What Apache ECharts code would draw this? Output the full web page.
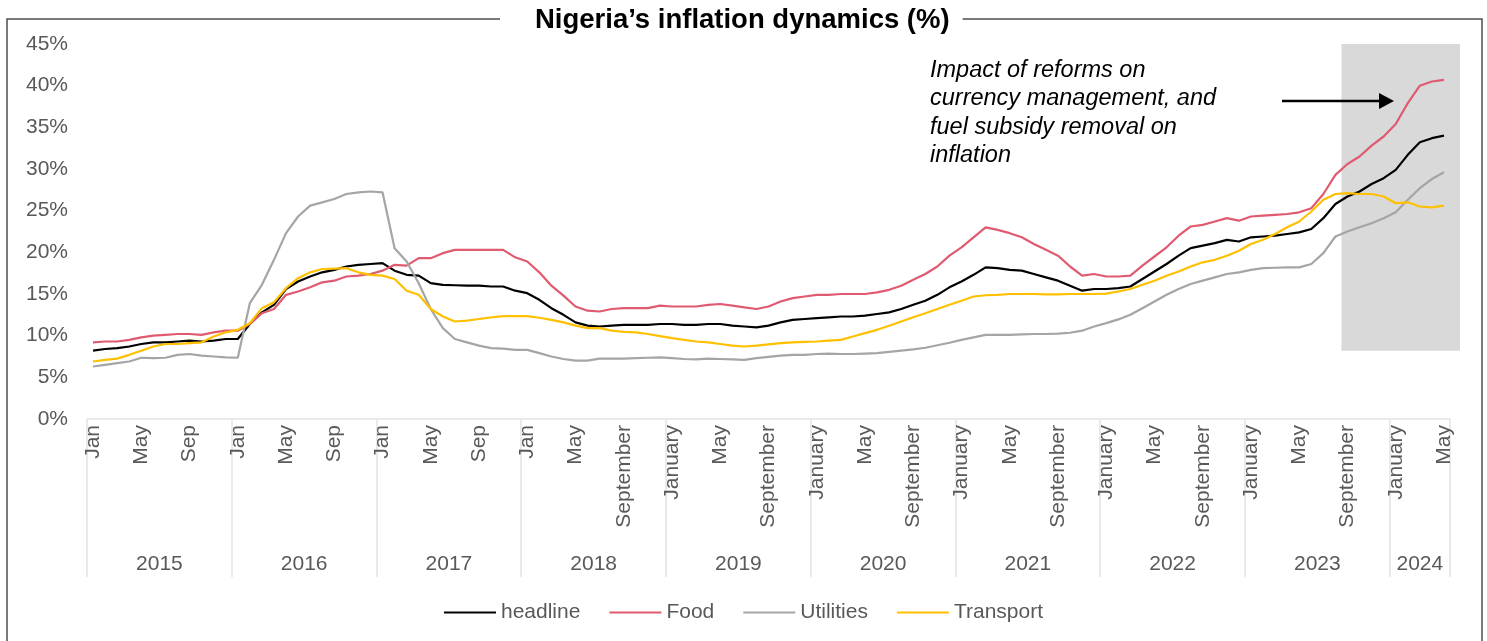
<!DOCTYPE html>
<html>
<head>
<meta charset="utf-8">
<title>Nigeria inflation dynamics</title>
<script src="https://cdn.jsdelivr.net/npm/echarts@6/dist/echarts.min.js"></script>
<style>
  html, body { margin: 0; padding: 0; background: #fff; }
  #chart { width: 1487px; height: 641px; }
</style>
</head>
<body>
<div id="chart"></div>
<script>
// years on the axis, the last one only runs to May
var years = [2015, 2016, 2017, 2018, 2019, 2020, 2021, 2022, 2023, 2024];
var monthsInLastYear = 5;

// labels shown every fourth month (Jan / May / Sep)
var tickLabels = [
  'Jan', 'May', 'Sep', 'Jan', 'May', 'Sep', 'Jan', 'May', 'Sep',
  'Jan', 'May', 'September',
  'January', 'May', 'September', 'January', 'May', 'September',
  'January', 'May', 'September', 'January', 'May', 'September',
  'January', 'May', 'September', 'January', 'May'
];

// y/y inflation, %, Jan 2015 - May 2024
var headline = [
  8.2, 8.4, 8.5, 8.7, 9.0, 9.2, 9.2, 9.3, 9.4, 9.3, 9.4, 9.6,
  9.6, 11.4, 12.8, 13.7, 15.6, 16.5, 17.1, 17.6, 17.9, 18.3, 18.5, 18.6,
  18.7, 17.8, 17.3, 17.2, 16.3, 16.1, 16.05, 16.0, 16.0, 15.9, 15.9, 15.4,
  15.1, 14.3, 13.3, 12.5, 11.6, 11.2, 11.1, 11.2, 11.3, 11.3, 11.3, 11.4,
  11.4, 11.3, 11.3, 11.4, 11.4, 11.2, 11.1, 11.0, 11.2, 11.6, 11.9, 12.0,
  12.1, 12.2, 12.3, 12.3, 12.4, 12.6, 12.8, 13.2, 13.7, 14.2, 14.9, 15.8,
  16.5, 17.3, 18.2, 18.1, 17.9, 17.8, 17.4, 17.0, 16.6, 16.0, 15.4, 15.6,
  15.6, 15.7, 15.9, 16.8, 17.7, 18.6, 19.6, 20.5, 20.8, 21.1, 21.5, 21.3,
  21.8, 21.9, 22.0, 22.2, 22.4, 22.8, 24.1, 25.8, 26.7, 27.3, 28.2, 28.9,
  29.9, 31.7, 33.2, 33.7, 34.0
];
var food = [
  9.2, 9.3, 9.3, 9.5, 9.8, 10.0, 10.1, 10.2, 10.2, 10.1, 10.4, 10.6,
  10.6, 11.4, 12.7, 13.2, 14.9, 15.3, 15.8, 16.4, 16.6, 17.1, 17.2, 17.4,
  17.8, 18.5, 18.4, 19.3, 19.3, 19.9, 20.3, 20.3, 20.3, 20.3, 20.3, 19.4,
  18.9, 17.6, 16.0, 14.8, 13.5, 13.0, 12.9, 13.2, 13.3, 13.3, 13.3, 13.6,
  13.5, 13.5, 13.5, 13.7, 13.8, 13.6, 13.4, 13.2, 13.5, 14.1, 14.5, 14.7,
  14.9, 14.9, 15.0, 15.0, 15.0, 15.2, 15.5, 16.0, 16.7, 17.4, 18.3, 19.6,
  20.6, 21.8, 23.0, 22.7, 22.3, 21.8, 21.0, 20.3, 19.6, 18.3, 17.2, 17.4,
  17.1, 17.1, 17.2, 18.4, 19.5, 20.6, 22.0, 23.1, 23.3, 23.7, 24.1, 23.8,
  24.3, 24.4, 24.5, 24.6, 24.8, 25.3, 27.0, 29.3, 30.6, 31.5, 32.8, 33.9,
  35.4, 37.9, 40.0, 40.5, 40.7
];
var utilities = [
  6.3, 6.5, 6.7, 6.9, 7.35, 7.3, 7.35, 7.7, 7.8, 7.6, 7.5, 7.4,
  7.35, 13.9, 16.1, 19.1, 22.3, 24.3, 25.6, 26.0, 26.4, 27.0, 27.2, 27.3,
  27.2, 20.5, 18.9, 16.3, 13.2, 10.9, 9.6, 9.2, 8.8, 8.5, 8.45, 8.3,
  8.3, 7.9, 7.5, 7.2, 7.0, 7.0, 7.25, 7.25, 7.25, 7.3, 7.35, 7.4,
  7.3, 7.2, 7.15, 7.25, 7.2, 7.15, 7.1, 7.3, 7.45, 7.6, 7.7, 7.7,
  7.8, 7.85, 7.8, 7.8, 7.85, 7.9, 8.05, 8.2, 8.35, 8.55, 8.85, 9.15,
  9.5, 9.8, 10.1, 10.1, 10.1, 10.15, 10.2, 10.2, 10.25, 10.35, 10.6, 11.1,
  11.5, 11.95, 12.5, 13.3, 14.1, 14.9, 15.6, 16.2, 16.6, 17.0, 17.4, 17.6,
  17.9, 18.1, 18.15, 18.2, 18.2, 18.6, 19.9, 21.9, 22.5, 23.0, 23.5, 24.1,
  24.8, 26.3, 27.7, 28.8, 29.6
];
var transport = [
  6.9, 7.1, 7.25, 7.7, 8.2, 8.7, 9.0, 9.0, 9.1, 9.2, 9.9, 10.4,
  10.7, 11.5, 13.3, 14.0, 15.7, 16.9, 17.6, 18.0, 18.05, 18.1, 17.6, 17.3,
  17.2, 16.8, 15.4, 14.9, 13.2, 12.3, 11.7, 11.8, 12.0, 12.2, 12.35, 12.35,
  12.35, 12.15, 11.9, 11.6, 11.2, 10.9, 10.9, 10.6, 10.45, 10.4, 10.2, 9.95,
  9.7, 9.5, 9.3, 9.2, 9.0, 8.8, 8.7, 8.8, 8.95, 9.1, 9.2, 9.25,
  9.3, 9.4, 9.5, 9.9, 10.3, 10.7, 11.2, 11.7, 12.2, 12.7, 13.2, 13.7,
  14.2, 14.7, 14.85, 14.9, 15.0, 15.0, 15.0, 14.95, 14.95, 15.0, 15.0, 15.0,
  15.05, 15.3, 15.6, 16.1, 16.6, 17.2, 17.7, 18.3, 18.8, 19.1, 19.6, 20.2,
  21.0, 21.5, 22.2, 23.0, 23.7, 24.9, 26.3, 27.0, 27.1, 27.0, 27.0, 26.7,
  25.9, 26.0, 25.5, 25.4, 25.6
];

var font = "'Liberation Sans', Arial, sans-serif";
var grey = '#595959';

// one category per month
var categories = [];
years.forEach(function (y, k) {
  var n = k === years.length - 1 ? monthsInLastYear : 12;
  for (var m = 1; m <= n; m++) categories.push(y + '-' + (m < 10 ? '0' : '') + m);
});
var lastYearStart = (years.length - 1) * 12;
var lastYearMid = lastYearStart + Math.floor(monthsInLastYear / 2);

var chart = echarts.init(document.getElementById('chart'));

function line(name, data, color) {
  return {
    name: name,
    type: 'line',
    data: data,
    symbol: 'none',
    lineStyle: { width: 2.2, color: color },
    itemStyle: { color: color },
    z: 3
  };
}

var option = {
  animation: false,
  backgroundColor: '#fff',
  title: {
    text: 'Nigeria\u2019s inflation dynamics (%)',
    left: 500,
    top: 4,
    padding: [2, 13, 2, 35],
    backgroundColor: '#fff',
    textStyle: { fontFamily: font, fontSize: 27.5, fontWeight: 'bold', color: '#000' }
  },
  legend: {
    left: 'center',
    top: 597,
    icon: 'rect',
    itemWidth: 52,
    itemHeight: 2.2,
    itemGap: 29,
    textStyle: { fontFamily: font, fontSize: 21, color: grey },
    data: ['headline', 'Food', 'Utilities', 'Transport']
  },
  grid: { left: 87, right: 37, top: 44, bottom: 222, outerBoundsMode: 'none' },
  xAxis: [
    {
      type: 'category',
      data: categories,
      boundaryGap: true,
      axisLine: { lineStyle: { color: '#e3e3e3', width: 1.5 } },
      axisTick: { show: false },
      axisLabel: {
        interval: function (i) { return i % 4 === 0; },
        formatter: function (v) { return tickLabels[categories.indexOf(v) / 4]; },
        rotate: 90,
        margin: 6,
        fontFamily: font,
        fontSize: 21,
        color: grey
      },
      splitLine: { show: false }
    },
    {
      type: 'category',
      data: categories,
      position: 'bottom',
      boundaryGap: true,
      axisLine: { show: false },
      axisTick: {
        show: true,
        interval: function (i) { return i % 12 === 0; },
        length: 158,
        lineStyle: { color: '#e3e3e3', width: 1.5 }
      },
      axisLabel: {
        interval: function (i) {
          return (i < lastYearStart && i % 12 === 6) || i === lastYearMid;
        },
        formatter: function (v) {
          var i = categories.indexOf(v);
          return i < lastYearStart ? '{f|' + v.slice(0, 4) + '}' : '{p|' + v.slice(0, 4) + '}';
        },
        margin: 135,
        fontFamily: font,
        fontSize: 21,
        color: grey,
        rich: {
          f: { fontFamily: font, fontSize: 21, color: grey, padding: [0, 12, 0, 0] },
          p: { fontFamily: font, fontSize: 21, color: grey }
        }
      },
      splitLine: { show: false }
    }
  ],
  yAxis: {
    type: 'value',
    min: 0,
    max: 45,
    interval: 5,
    axisLine: { show: false },
    axisTick: { show: false },
    splitLine: { show: false },
    axisLabel: {
      formatter: '{value}%',
      margin: 19,
      fontFamily: font,
      fontSize: 21,
      color: grey
    }
  },
  series: [
    line('headline', headline, '#000000'),
    line('Food', food, '#e05a70'),
    line('Utilities', utilities, '#a5a5a5'),
    line('Transport', transport, '#ffc000')
  ]
};

chart.setOption(option);

// shaded window from Sep 2023 onward, placed with the chart's own scales
var band = chart.convertToPixel({ xAxisIndex: 0 }, 1) - chart.convertToPixel({ xAxisIndex: 0 }, 0);
var pTop = chart.convertToPixel({ xAxisIndex: 0, yAxisIndex: 0 }, [104, 45]);
var pBot = chart.convertToPixel({ xAxisIndex: 0, yAxisIndex: 0 }, [categories.length - 1, 8.2]);
var shadeLeft = pTop[0] - band / 2;
var shadeRight = pBot[0] + band / 2 + 10;

chart.setOption({
  graphic: [
    {
      type: 'rect',
      z: -10,
      shape: { x: 7, y: 19, width: 1475, height: 640 },
      style: { fill: 'none', stroke: '#4d4d4d', lineWidth: 1.5 }
    },
    {
      type: 'rect',
      z: 1,
      shape: { x: shadeLeft, y: pTop[1], width: shadeRight - shadeLeft, height: pBot[1] - pTop[1] },
      style: { fill: '#d9d9d9' }
    },
    {
      type: 'text',
      z: 5,
      left: 930,
      top: 56,
      style: {
        text: 'Impact of reforms on\ncurrency management, and\nfuel subsidy removal on\ninflation',
        font: 'italic 23.5px ' + font,
        lineHeight: 28.5,
        fill: '#000'
      }
    },
    {
      type: 'line',
      z: 5,
      shape: { x1: 1282, y1: 101, x2: 1381, y2: 101 },
      style: { stroke: '#000', lineWidth: 2.7 }
    },
    {
      type: 'polygon',
      z: 5,
      shape: { points: [[1379, 93], [1394, 101], [1379, 109]] },
      style: { fill: '#000' }
    }
  ]
});
</script>
</body>
</html>
